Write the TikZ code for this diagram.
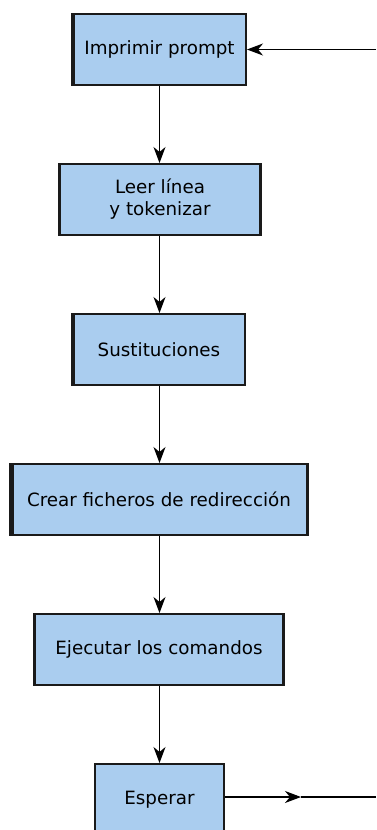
\documentclass[tikz,border=0pt]{standalone}
\usepackage{fontspec}
\setmainfont{DejaVu Sans}
\usetikzlibrary{arrows.meta}
\definecolor{boxfill}{HTML}{AACDEF}
\definecolor{edge}{HTML}{1A1A1A}
\tikzset{
  flowbox/.style={draw=edge, fill=boxfill, line width=2pt, align=center, inner sep=0pt,
    font=\fontsize{18.3pt}{22pt}\selectfont},
  flowarrow/.style={line width=1.1pt, -{Stealth[length=16pt, width=12pt, inset=5pt]}},
  thickside/.style={draw=edge, line width=4pt}
}
\begin{document}
\begin{tikzpicture}[x=1pt, y=-1pt]
\useasboundingbox (0,0) rectangle (376,830);
\clip (0,0) rectangle (376,830);
\node[flowbox, minimum width=173pt, minimum height=71pt] (b1) at (159.5,49.5) {Imprimir prompt};
\node[flowbox, minimum width=200pt, minimum height=71pt] (b2) at (160,199.5) {Leer línea\\y tokenizar};
\node[flowbox, minimum width=172pt, minimum height=71pt] (b3) at (159,349.5) {Sustituciones};
\node[flowbox, minimum width=296pt, minimum height=71pt] (b4) at (159,499.5) {Crear ficheros de redirección};
\node[flowbox, minimum width=248pt, minimum height=71pt] (b5) at (159,649.5) {Ejecutar los comandos};
\node[flowbox, minimum width=129pt, minimum height=71pt] (b6) at (159.5,799.5) {Esperar};
% thicker sides
\draw[thickside] ([xshift=1pt]b1.north west) -- ([xshift=1pt]b1.south west);
\draw[thickside, line width=3pt] ([xshift=0.5pt]b2.north west) -- ([xshift=0.5pt]b2.south west);
\draw[thickside, line width=3pt] ([xshift=-0.5pt]b2.north east) -- ([xshift=-0.5pt]b2.south east);
\draw[thickside, line width=3.5pt] ([xshift=1pt]b3.north west) -- ([xshift=1pt]b3.south west);
\draw[thickside, line width=5pt] ([xshift=1.5pt]b4.north west) -- ([xshift=1.5pt]b4.south west);
\draw[thickside, line width=3pt] ([xshift=-0.5pt]b4.north east) -- ([xshift=-0.5pt]b4.south east);
\draw[thickside, line width=3pt] ([xshift=0.5pt]b5.north west) -- ([xshift=0.5pt]b5.south west);
\draw[thickside, line width=3pt] ([xshift=-0.5pt]b5.north east) -- ([xshift=-0.5pt]b5.south east);
% connectors
\coordinate (loopin) at (376,49.5);
\coordinate (loopmid) at (301,797);
\coordinate (loopout) at (376,797);
\draw[flowarrow] (loopin) -- (b1.east);
\draw[flowarrow] (b1.south) -- (b1.south |- b2.north);
\draw[flowarrow] (b1.south |- b2.south) -- (b1.south |- b3.north);
\draw[flowarrow] (b1.south |- b3.south) -- (b1.south |- b4.north);
\draw[flowarrow] (b1.south |- b4.south) -- (b1.south |- b5.north);
\draw[flowarrow] (b1.south |- b5.south) -- (b1.south |- b6.north);
\draw[flowarrow] (b6.east |- loopmid) -- (loopmid);
\draw[line width=1.1pt] (loopmid) -- (loopout);
\end{tikzpicture}
\end{document}
